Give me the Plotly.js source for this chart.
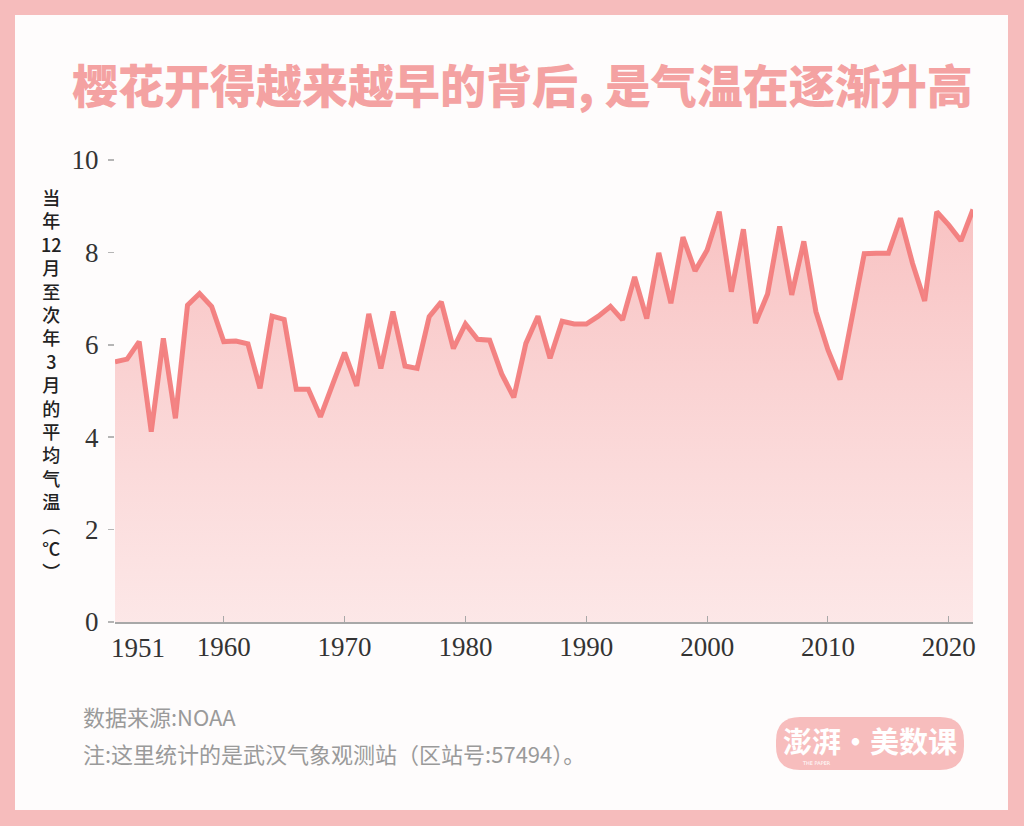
<!DOCTYPE html>
<html>
<head>
<meta charset="utf-8">
<script src="https://cdn.plot.ly/plotly-3.0.1.min.js"></script>
<style>
  html, body { margin: 0; padding: 0; background: #f6bcbc; }
  #chart { width: 1024px; height: 826px; }
</style>
</head>
<body>
<div id="chart"></div>
<script>
// ---- data ----
const years = [1951,1952,1953,1954,1955,1956,1957,1958,1959,1960,
  1961,1962,1963,1964,1965,1966,1967,1968,1969,1970,
  1971,1972,1973,1974,1975,1976,1977,1978,1979,1980,
  1981,1982,1983,1984,1985,1986,1987,1988,1989,1990,
  1991,1992,1993,1994,1995,1996,1997,1998,1999,2000,
  2001,2002,2003,2004,2005,2006,2007,2008,2009,2010,
  2011,2012,2013,2014,2015,2016,2017,2018,2019,2020,
  2021,2022];
const temps = [5.63,5.69,6.07,4.12,6.14,4.41,6.86,7.11,6.83,6.07,
  6.08,6.02,5.06,6.62,6.55,5.04,5.04,4.44,5.14,5.83,
  5.11,6.67,5.49,6.72,5.54,5.49,6.61,6.93,5.92,6.45,
  6.12,6.10,5.37,4.86,6.03,6.62,5.71,6.51,6.45,6.45,
  6.62,6.83,6.54,7.47,6.57,7.99,6.90,8.33,7.60,8.05,
  8.88,7.15,8.50,6.47,7.10,8.56,7.08,8.24,6.72,5.89,
  5.25,6.68,7.97,7.98,7.98,8.74,7.76,6.95,8.88,8.59,
  8.25,8.93];
const xTickVals = [1951,1960,1970,1980,1990,2000,2010,2020];
const xTickText = ['1951','1960','1970','1980','1990','2000','2010','2020'];
const yTickVals = [0,2,4,6,8,10];
const titleText = '樱花开得越来越早的背后, 是气温在逐渐升高';
const yTitleChars = ['当','年','12','月','至','次','年','3','月','的','平','均','气','温','︵','℃','︶'];
const sourceText = '数据来源:NOAA';
const noteText = '注:这里统计的是武汉气象观测站（区站号:57494）。';
const logoText = '澎湃·美数课';

// ---- layout helpers (pixel -> paper) ----
const W = 1024, H = 826;
const M = {l: 115, r: 51, t: 160, b: 204};
const PW = W - M.l - M.r, PH = H - M.t - M.b;
const px = x => (x - M.l) / PW;
const py = y => (H - M.b - y) / PH;

function roundRect(x0, y0, x1, y1, r) {
  const p = (x, y) => px(x) + ',' + py(y);
  return 'M' + p(x0 + r, y0) + ' L' + p(x1 - r, y0) + ' Q' + p(x1, y0) + ' ' + p(x1, y0 + r) +
    ' L' + p(x1, y1 - r) + ' Q' + p(x1, y1) + ' ' + p(x1 - r, y1) +
    ' L' + p(x0 + r, y1) + ' Q' + p(x0, y1) + ' ' + p(x0, y1 - r) +
    ' L' + p(x0, y0 + r) + ' Q' + p(x0, y0) + ' ' + p(x0 + r, y0) + ' Z';
}

const serif = '"Liberation Serif", "DejaVu Serif", serif';
const cjk = '"Noto Sans CJK SC", sans-serif';
const tickFont = {family: serif, size: 27, color: '#333'};

const trace = {
  x: years, y: temps, type: 'scatter', mode: 'lines',
  line: {color: 'rgba(242,122,122,0.92)', width: 5, shape: 'linear'},
  fill: 'tozeroy',
  fillgradient: {
    type: 'vertical', start: 0, stop: 9,
    colorscale: [[0, 'rgba(252,224,224,0.75)'], [1, 'rgba(247,184,184,0.85)']]
  },
  hoverinfo: 'x+y'
};

// x tick labels: the first one sits right of its tick, as in the reference
const xTickTextAxis = xTickText.map((t, i) => i === 0 ? '' : t);

const annotations = [];
annotations.push({
  xref: 'x', yref: 'paper', x: xTickVals[0], y: py(631), xanchor: 'left', yanchor: 'top',
  xshift: -6, text: xTickText[0], showarrow: false, font: tickFont
});
// vertical (stacked) y-axis title
annotations.push({
  xref: 'paper', yref: 'paper', x: px(51), y: py(384),
  text: yTitleChars.join('<br>'), showarrow: false, xanchor: 'center', yanchor: 'middle',
  align: 'center',
  font: {family: cjk, size: 18, color: '#222', weight: 500}
});
annotations.push({
  xref: 'paper', yref: 'paper', x: px(81), y: py(716), xanchor: 'left', yanchor: 'middle',
  text: sourceText, showarrow: false, font: {family: cjk, size: 22, color: '#9a9a9a'}
});
annotations.push({
  xref: 'paper', yref: 'paper', x: px(81), y: py(753), xanchor: 'left', yanchor: 'middle',
  text: noteText, showarrow: false, font: {family: cjk, size: 22, color: '#9a9a9a'}
});
annotations.push({
  xref: 'paper', yref: 'paper', x: px(870), y: py(740), xanchor: 'center', yanchor: 'middle',
  text: logoText, showarrow: false, font: {family: cjk, size: 29, color: '#ffffff', weight: 700}
});
annotations.push({
  xref: 'paper', yref: 'paper', x: px(816), y: py(763), xanchor: 'center', yanchor: 'middle',
  text: 'THE PAPER', showarrow: false, font: {family: 'DejaVu Sans', size: 5, color: '#ffffff'}
});

const layout = {
  width: W, height: H,
  margin: M,
  paper_bgcolor: '#f6bcbc',
  plot_bgcolor: 'rgba(0,0,0,0)',
  showlegend: false,
  title: {
    text: titleText, x: 72 / W, xanchor: 'left', xref: 'container',
    y: 1 - 87 / H, yanchor: 'middle', yref: 'container',
    font: {family: cjk, size: 46, color: '#f4a2a2', weight: 900}
  },
  xaxis: {
    range: [1951, 2022], tickvals: xTickVals, ticktext: xTickTextAxis,
    showgrid: false, zeroline: false,
    showline: true, linecolor: '#a8a8a8', linewidth: 1.5,
    ticks: 'inside', ticklen: 6, tickcolor: '#a8a8a8', tickwidth: 1,
    tickfont: tickFont,
    fixedrange: true
  },
  yaxis: {
    range: [0, 10], tickvals: yTickVals,
    showgrid: false, zeroline: false, showline: false,
    ticks: 'outside', ticklen: 6, tickcolor: '#b5b5b5', tickwidth: 1.5,
    tickfont: tickFont,
    ticklabelstandoff: 4,
    fixedrange: true
  },
  shapes: [
    {type: 'rect', xref: 'paper', yref: 'paper', layer: 'below',
     x0: px(15), x1: px(1008), y0: py(810), y1: py(15),
     fillcolor: '#fefcfc', line: {width: 0}},
    {type: 'path', xref: 'paper', yref: 'paper', layer: 'below',
     path: roundRect(776, 717, 964, 770, 24),
     fillcolor: '#f7bdbd', line: {width: 0}}
  ],
  annotations: annotations
};

Plotly.newPlot('chart', [trace], layout, {displayModeBar: false, staticPlot: true});
</script>
</body>
</html>
